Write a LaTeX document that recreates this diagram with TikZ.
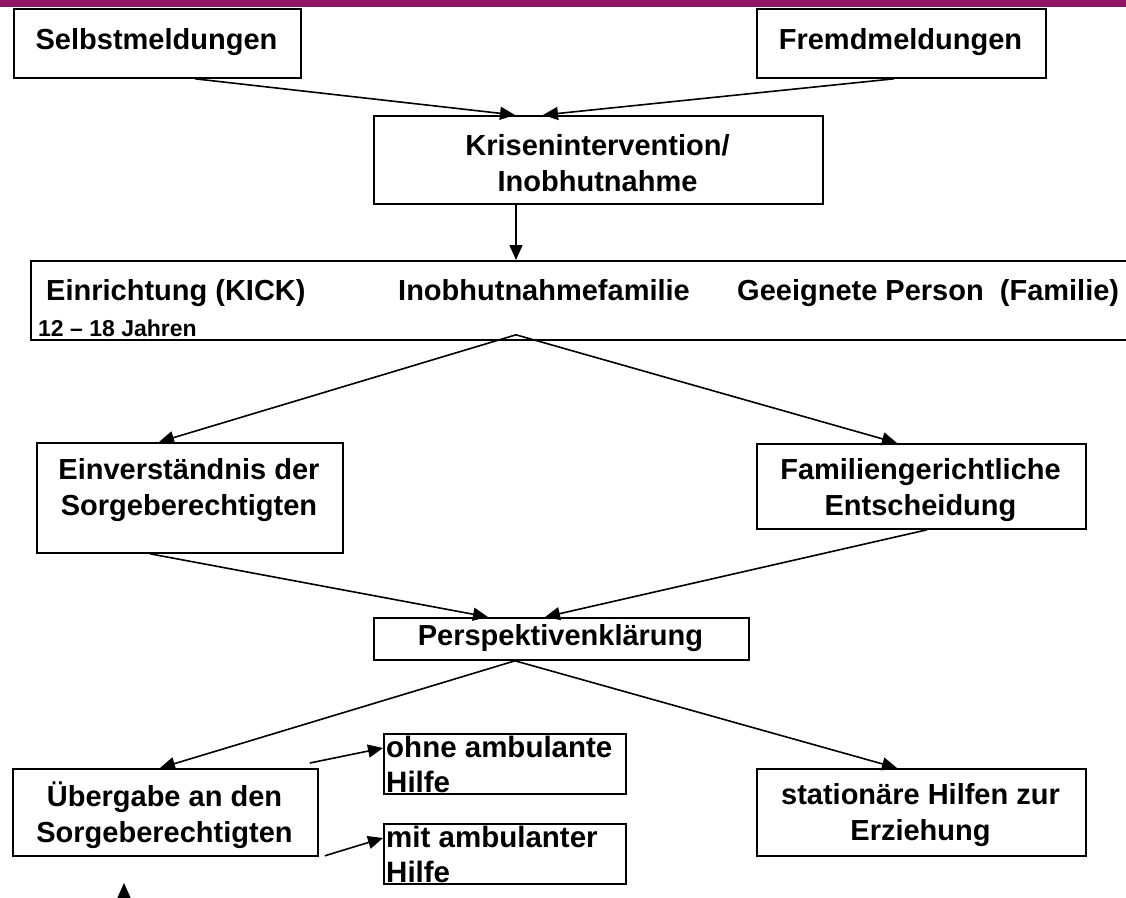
\documentclass[tikz,border=0pt]{standalone}
\usepackage{fontspec}
\setmainfont{Liberation Sans}
\usetikzlibrary{arrows.meta}
\definecolor{barpurple}{RGB}{143,20,98}
\begin{document}
\begin{tikzpicture}[x=1pt,y=-1pt,
  box/.style={draw=black,line width=1.8pt,inner sep=0pt,anchor=north west},
  txt/.style={inner sep=0pt,align=center,font=\fontsize{29}{36}\selectfont\bfseries},
  ltxt/.style={inner sep=0pt,anchor=west,align=left,font=\fontsize{29.5}{35}\selectfont\bfseries},
  btxt/.style={inner sep=0pt,anchor=base west,font=\fontsize{29}{35}\selectfont\bfseries},
  arr/.style={line width=1.6pt,-{Triangle[length=15pt,width=13pt]}}]
\useasboundingbox (0,0) rectangle (1126,897);
\clip (0,0) rectangle (1126,897);
\fill[barpurple] (0,0) rectangle (1126,7);

% boxes
\node[box,minimum width=287pt,minimum height=69pt] (sel) at (13,8) {};
\node[box,minimum width=289pt,minimum height=69pt] (fre) at (756,8) {};
\node[box,minimum width=449pt,minimum height=88pt] (kri) at (373,115) {};
\node[box,minimum width=1100pt,minimum height=79pt] (wide) at (30,260) {};
\node[box,minimum width=306pt,minimum height=110pt] (ein) at (36,442) {};
\node[box,minimum width=329pt,minimum height=85pt] (fam) at (756,443) {};
\node[box,minimum width=375pt,minimum height=42pt] (per) at (373,617) {};
\node[box,minimum width=305pt,minimum height=87pt] (ueb) at (12,768) {};
\node[box,minimum width=329pt,minimum height=87pt] (sta) at (756,768) {};
\node[box,minimum width=242pt,minimum height=60pt] (ohne) at (383,733) {};
\node[box,minimum width=242pt,minimum height=60pt] (mit) at (383,823) {};

% texts
\node[txt] (selt) at (156.5,42) {Selbstmeldungen};
\node[txt] (fret) at (900.5,42) {Fremdmeldungen};
\node[txt] (krit) at (597.5,163) {Krisenintervention/\\Inobhutnahme};
\node[btxt] (w1) at (46,300) {Einrichtung (KICK)};
\node[btxt] (w2) at (398,300) {Inobhutnahmefamilie};
\node[btxt] (w3) at (737,300) {Geeignete Person\ \ (Familie)};
\node[btxt,font=\fontsize{23}{28}\selectfont\bfseries] (w4) at (38,336) {12 – 18 Jahren};
\node[txt] (eint) at (189,490) {Einverständnis der\\Sorgeberechtigten};
\node[txt] (famt) at (920.5,490) {Familiengerichtliche\\Entscheidung};
\node[txt] (pert) at (560.5,638) {Perspektivenklärung};
\node[txt] (uebt) at (164.5,815) {Übergabe an den\\Sorgeberechtigten};
\node[txt] (stat) at (920.5,815) {stationäre Hilfen zur\\Erziehung};
\node[ltxt] (ohnet) at (386,764.5) {ohne ambulante\\Hilfe};
\node[ltxt] (mitt) at (386,854.5) {mit ambulanter\\Hilfe};

% connectors
\draw[arr] ([xshift=182pt]sel.south west) -- ([xshift=142pt]kri.north west);
\draw[arr] ([xshift=138pt]fre.south west) -- ([xshift=170pt]kri.north west);
\draw[arr] ([xshift=143pt]kri.south west) -- ([xshift=486pt]wide.north west);
\coordinate (apex) at ([xshift=486pt,yshift=6pt]wide.south west);
\draw[arr] (apex) -- ([xshift=123pt]ein.north west);
\draw[arr] (apex) -- ([xshift=141pt]fam.north west);
\draw[arr] ([xshift=114pt]ein.south west) -- ([xshift=115pt]per.north west);
\draw[arr] ([xshift=171pt]fam.south west) -- ([xshift=172pt]per.north west);
\draw[arr] ([xshift=142pt]per.south west) -- ([xshift=148pt]ueb.north west);
\draw[arr] ([xshift=142pt]per.south west) -- ([xshift=141pt]sta.north west);
\draw[arr] ([xshift=-9pt,yshift=5pt]ueb.north east) -- ([yshift=-15pt]ohne.north west);
\draw[arr] ([xshift=6pt,yshift=1pt]ueb.south east) -- ([yshift=-15pt]mit.north west);
\coordinate (up0) at (124,915);
\coordinate (up1) at (124,883);
\draw[arr] (up0) -- (up1);
\end{tikzpicture}
\end{document}
